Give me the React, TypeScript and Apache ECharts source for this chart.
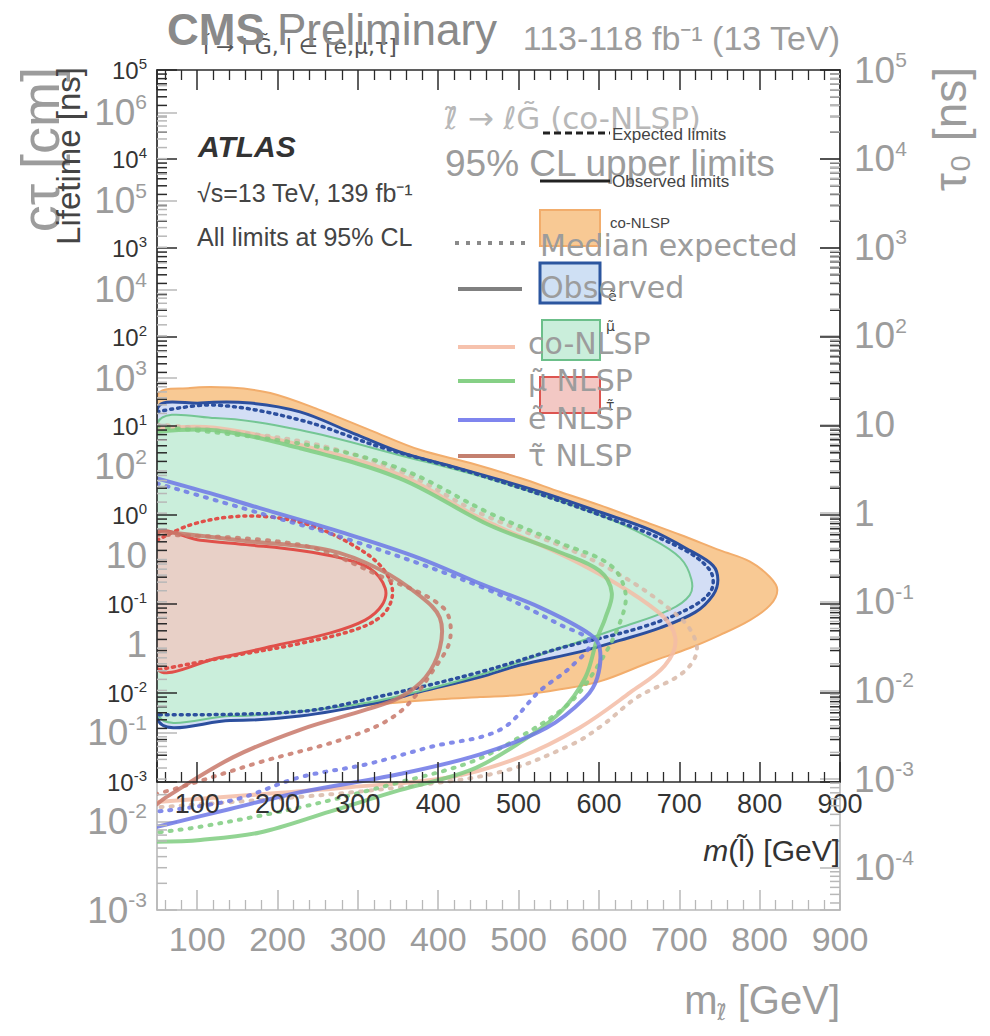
import React, { useEffect, useRef } from 'react';
import * as echarts from 'echarts';

// ---------- axis ranges ----------
const X_MIN = 50;
const X_MAX = 900;
const ATLAS_T_MIN = 1e-3; // lifetime [ns]
const ATLAS_T_MAX = 1e5;
const CMS_CTAU_MIN = 1e-3; // c tau [cm]
const CMS_CTAU_MAX = 3e6;
const CMS_TAU_MIN = 1e-3 / 30; // tau0 [ns]
const CMS_TAU_MAX = 1e5;
const atlasDecades = [-3, -2, -1, 0, 1, 2, 3, 4];
const cmsCtauDecades = [-3, -2, -1, 0, 1, 2, 3, 4, 5, 6];
const cmsTauDecades = [-5, -4, -3, -2, -1, 0, 1, 2, 3, 4];

// ---------- ATLAS contours: [m(slepton) GeV, lifetime ns] ----------
const atlasCoNLSP: [number, number][] = [
  [50, 21.2], [91, 26.7], [141, 27], [191, 23.5], [253, 15.1], [315, 9.0], [377, 5.4], [440, 3.84],
  [502, 2.6], [552, 1.81], [601, 1.29], [651, 0.88], [701, 0.6], [751, 0.4], [788, 0.3], [813, 0.2],
  [822, 0.144], [813, 0.097], [788, 0.066], [751, 0.045], [713, 0.032], [664, 0.0223], [601, 0.0135],
  [552, 0.011], [502, 0.0095], [452, 0.009], [402, 0.0085], [328, 0.0075], [228, 0.0057], [141, 0.0052], [50, 0.0056],
];
const atlasSelectron: [number, number][] = [
  [50, 15.1], [104, 18.1], [166, 18.1], [228, 14.4], [290, 8.6], [352, 5.1], [415, 3.55], [477, 2.47],
  [539, 1.68], [601, 1.08], [664, 0.68], [713, 0.4], [742, 0.27], [748, 0.186], [742, 0.126], [720, 0.081],
  [676, 0.054], [626, 0.039], [576, 0.029], [502, 0.0206], [452, 0.0151], [377, 0.0103], [328, 0.0079],
  [228, 0.0055], [141, 0.0049], [50, 0.0053],
];
const atlasSelectronExp: [number, number][] = [
  [50, 14.4], [122, 17.2], [228, 11.7], [328, 5.8], [452, 2.8], [601, 1.0], [701, 0.43], [738, 0.24],
  [740, 0.144], [713, 0.09], [651, 0.054], [552, 0.032], [452, 0.0172], [328, 0.0092], [228, 0.0062], [50, 0.0057],
];
const atlasSmuon: [number, number][] = [
  [50, 10.3], [122, 12.3], [228, 9.0], [352, 4.7], [477, 2.35], [601, 1.0], [664, 0.55], [701, 0.33],
  [715, 0.19], [713, 0.126], [688, 0.086], [626, 0.054], [552, 0.032], [452, 0.016], [328, 0.0083],
  [228, 0.0062], [141, 0.0055], [50, 0.006],
];
const atlasStau: [number, number][] = [
  [50, 0.6], [104, 0.52], [166, 0.46], [228, 0.4], [278, 0.33], [315, 0.25], [334, 0.15], [330, 0.097],
  [309, 0.066], [265, 0.047], [203, 0.035], [128, 0.025], [50, 0.0191],
];
const atlasStauExp: [number, number][] = [
  [50, 0.52], [91, 0.77], [141, 0.95], [191, 0.95], [240, 0.77], [290, 0.48], [328, 0.27], [343, 0.144],
  [334, 0.081], [303, 0.054], [228, 0.036], [153, 0.027], [50, 0.0181],
];

// ---------- CMS contours: [m GeV, tau0 ns] ----------
const cmsCoObs: [number, number][] = [
  [50, 9.0], [122, 9.2], [228, 5.9], [352, 2.7], [452, 0.88], [576, 0.27], [672, 0.079], [695, 0.039],
  [682, 0.0191], [639, 0.0095], [576, 0.0038], [502, 0.00177], [415, 0.00105], [290, 8.1e-4], [166, 6.6e-4], [50, 5.5e-4],
];
const cmsCoExp: [number, number][] = [
  [50, 10], [228, 6.5], [352, 3.0], [452, 1.0], [601, 0.27], [701, 0.066], [722, 0.03], [705, 0.016],
  [647, 0.0083], [605, 0.0041], [568, 0.0025], [477, 0.0012], [352, 8.1e-4], [228, 6.3e-4], [50, 4.8e-4],
];
const cmsSmuonObs: [number, number][] = [
  [50, 8.3], [122, 8.6], [228, 5.4], [352, 2.47], [464, 0.73], [552, 0.36], [601, 0.223], [616, 0.126],
  [608, 0.066], [598, 0.039], [583, 0.014], [552, 0.0057], [502, 0.0026], [440, 0.00126], [352, 7.5e-4],
  [265, 4.3e-4], [178, 2.5e-4], [104, 2.06e-4], [50, 1.96e-4],
];
const cmsSmuonExp: [number, number][] = [
  [50, 9.5], [228, 6.1], [352, 3.2], [464, 1.0], [552, 0.46], [614, 0.26], [633, 0.126], [626, 0.058],
  [601, 0.0206], [564, 0.0073], [502, 0.003], [440, 0.00155], [352, 9.2e-4], [228, 4.8e-4], [104, 2.9e-4], [50, 2.5e-4],
];
const cmsSelectronObs: [number, number][] = [
  [50, 2.47], [116, 1.68], [178, 1.14], [290, 0.57], [377, 0.31], [456, 0.155], [527, 0.086], [589, 0.043],
  [601, 0.03], [598, 0.014], [583, 0.0083], [535, 0.0038], [452, 0.0019], [352, 0.00114], [228, 7.1e-4],
  [141, 4.6e-4], [50, 2.9e-4],
];
const cmsSelectronExp: [number, number][] = [
  [50, 2.17], [178, 1.0], [290, 0.5], [456, 0.144], [552, 0.055], [589, 0.035], [564, 0.0181], [527, 0.01],
  [477, 0.0036], [390, 0.0023], [311, 0.00147], [228, 0.00105], [145, 5.8e-4], [50, 4.3e-4],
];
const cmsStauObs: [number, number][] = [
  [50, 0.63], [166, 0.48], [265, 0.38], [328, 0.23], [377, 0.117], [402, 0.066], [402, 0.03], [384, 0.014],
  [352, 0.0083], [311, 0.0061], [228, 0.0036], [145, 0.00177], [62, 6.3e-4], [50, 5.2e-4],
];
const cmsStauExp: [number, number][] = [
  [50, 0.57], [228, 0.44], [331, 0.19], [406, 0.086], [415, 0.039], [396, 0.0181], [352, 0.0057],
  [290, 0.003], [178, 0.00155], [79, 8.1e-4], [50, 6.8e-4],
];

// ---------- styles ----------
const SANS = "'Liberation Sans', Arial, sans-serif";
const DEJAVU = "'DejaVu Sans', 'Liberation Sans', sans-serif";
const CMS_GRAY = '#9c9c9c';
const CMS_AXIS = '#b8b8b8';
const ATLAS_DARK = '#2a2a2a';

function powLabel(v: number, cms: boolean) {
  const e = Math.log10(v);
  const r = Math.round(e);
  if (Math.abs(e - r) > 1e-3) return '';
  if (cms && r === 0) return '{b|1}';
  if (cms && r === 1) return '{b|10}';
  return `{b|10}{s|${r < 0 ? '-' : ''}${Math.abs(r)}}`;
}

const cmsRich = {
  b: { fontSize: 37, fontFamily: SANS, color: CMS_GRAY, lineHeight: 42 },
  s: { fontSize: 21, fontFamily: SANS, color: CMS_GRAY, lineHeight: 18, verticalAlign: 'top' },
};
const atlasRich = {
  b: { fontSize: 24, fontFamily: SANS, color: '#333', lineHeight: 28 },
  s: { fontSize: 15, fontFamily: SANS, color: '#333', lineHeight: 12, verticalAlign: 'top' },
};

type ShapeOpt = {
  xi: number; yi: number; z: number; closed?: boolean; fill?: string; stroke?: string;
  width?: number; dash?: number[]; opacity?: number; smooth?: number;
};

function shapeSeries(id: string, pts: [number, number][], o: ShapeOpt) {
  return {
    type: 'custom',
    id,
    name: id,
    xAxisIndex: o.xi,
    yAxisIndex: o.yi,
    z: o.z,
    clip: true,
    silent: true,
    data: pts,
    renderItem: (params: any, api: any) => {
      if (params.dataIndex !== 0) return null;
      const points = pts.map((p) => api.coord(p));
      return {
        type: o.closed ? 'polygon' : 'polyline',
        shape: { points, smooth: o.smooth ?? 0.35 },
        style: {
          fill: o.fill ?? 'none',
          stroke: o.stroke ?? 'none',
          lineWidth: o.width ?? 0,
          lineDash: o.dash,
          lineCap: 'round',
          opacity: o.opacity ?? 1,
        },
      };
    },
  };
}

function minorTickSeries(id: string, xi: number, yi: number, decades: number[], left: boolean, right: boolean,
  color: string, len: number, vmin: number, vmax: number) {
  return {
    type: 'custom',
    id,
    xAxisIndex: xi,
    yAxisIndex: yi,
    z: 7,
    clip: false,
    silent: true,
    data: decades.map((d) => [X_MIN, Math.pow(10, d)]),
    renderItem: (params: any, api: any) => {
      const d = decades[params.dataIndex];
      const cs = params.coordSys;
      const children: any[] = [];
      for (let k = 2; k <= 9; k++) {
        const v = k * Math.pow(10, d);
        if (v <= vmin || v >= vmax) continue;
        const y = api.coord([X_MIN, v])[1];
        if (left) children.push({ type: 'line', shape: { x1: cs.x, y1: y, x2: cs.x + len, y2: y }, style: { stroke: color, lineWidth: 1.5 } });
        if (right) children.push({ type: 'line', shape: { x1: cs.x + cs.width - len, y1: y, x2: cs.x + cs.width, y2: y }, style: { stroke: color, lineWidth: 1.5 } });
      }
      return { type: 'group', children };
    },
  };
}

const txt = (x: number, y: number, text: string, o: any = {}) => ({
  type: 'text',
  x,
  y,
  z: 30,
  rotation: o.rotation || 0,
  style: {
    text,
    fill: o.fill || '#333',
    fontSize: o.size || 20,
    fontFamily: o.family || SANS,
    fontWeight: o.weight || 'normal',
    fontStyle: o.fstyle || 'normal',
    align: o.align || 'left',
    verticalAlign: o.va || 'middle',
    rich: o.rich,
  },
});
const seg = (x1: number, y1: number, x2: number, y2: number, stroke: string, lw: number, dash?: number[]) => ({
  type: 'line', z: 30, shape: { x1, y1, x2, y2 }, style: { stroke, lineWidth: lw, lineDash: dash },
});
const box = (x: number, y: number, w: number, h: number, fill: string, stroke: string, lw: number) => ({
  type: 'rect', z: 29, shape: { x, y, width: w, height: h }, style: { fill, stroke, lineWidth: lw },
});

function buildOption() {
  const G_LEFT = 157;
  const G_TOP = 70;
  const G_W = 683;
  const cmsH = 840;
  const atlasH = 712;

  const xBase = (gridIndex: number, color: string, labelOpt: any, z: number, position = 'bottom') => ({
    type: 'value',
    gridIndex,
    position,
    min: X_MIN,
    max: X_MAX,
    splitNumber: 8,
    z,
    axisLine: { show: true, onZero: false, lineStyle: { color, width: 1.6 } },
    axisTick: { show: true, inside: true, length: 20, lineStyle: { color, width: 1.5 } },
    minorTick: { show: true, splitNumber: 5, length: 10, lineStyle: { color, width: 1.3 } },
    splitLine: { show: false },
    axisLabel: labelOpt,
  });

  const yLog = (gridIndex: number, position: string, min: number, max: number, color: string, labelOpt: any, z: number) => ({
    type: 'log',
    logBase: 10,
    gridIndex,
    position,
    min,
    max,
    z,
    axisLine: { show: true, onZero: false, lineStyle: { color, width: 1.6 } },
    axisTick: { show: true, inside: true, length: 20, lineStyle: { color, width: 1.5 } },
    splitLine: { show: false },
    axisLabel: labelOpt,
  });

  const atlasFill = (id: string, pts: [number, number][], fill: string, stroke: string, w: number) =>
    shapeSeries(id, pts, { xi: 1, yi: 2, z: 2, closed: true, fill, stroke, width: w });
  const atlasLine = (id: string, pts: [number, number][], stroke: string, w: number, dash?: number[]) =>
    shapeSeries(id, pts, { xi: 1, yi: 2, z: 3, stroke, width: w, dash });
  const cmsLine = (id: string, pts: [number, number][], stroke: string, dash?: number[]) =>
    shapeSeries(id, pts, { xi: 0, yi: 1, z: 4, stroke, width: 4, dash, opacity: 0.85 });

  const series = [
    atlasFill('ATLAS co-NLSP', atlasCoNLSP, '#f8c994', '#f2ad6c', 2),
    atlasFill('ATLAS selectron', atlasSelectron, '#d3def5', '#2c4f9e', 3),
    atlasFill('ATLAS smuon', atlasSmuon, '#caeedb', '#74c694', 2),
    atlasFill('ATLAS stau', atlasStau, '#e8d0c7', '#e0504a', 3),
    atlasLine('ATLAS selectron expected', atlasSelectronExp, '#2c4f9e', 3.5, [2, 5]),
    atlasLine('ATLAS stau expected', atlasStauExp, '#e0504a', 3.5, [2, 5]),
    cmsLine('CMS co-NLSP observed', cmsCoObs, '#f3bca6'),
    cmsLine('CMS co-NLSP expected', cmsCoExp, '#d8b8a8', [2, 8]),
    cmsLine('CMS smuon observed', cmsSmuonObs, '#7fcd80'),
    cmsLine('CMS smuon expected', cmsSmuonExp, '#7fcd80', [2, 8]),
    cmsLine('CMS selectron observed', cmsSelectronObs, '#6d77e6'),
    cmsLine('CMS selectron expected', cmsSelectronExp, '#6d77e6', [2, 8]),
    cmsLine('CMS stau observed', cmsStauObs, '#c8786a'),
    cmsLine('CMS stau expected', cmsStauExp, '#c8786a', [2, 8]),
    minorTickSeries('atlas minor', 1, 2, atlasDecades, true, true, ATLAS_DARK, 10, ATLAS_T_MIN, ATLAS_T_MAX),
    minorTickSeries('cms left minor', 0, 0, cmsCtauDecades, true, false, CMS_AXIS, 10, CMS_CTAU_MIN, CMS_CTAU_MAX),
    minorTickSeries('cms right minor', 0, 1, cmsTauDecades, false, true, CMS_AXIS, 10, CMS_TAU_MIN, CMS_TAU_MAX),
  ];

  const legendFont = { size: 30, family: DEJAVU, fill: CMS_GRAY };

  const graphics = [
    // ATLAS header texts
    txt(203, 46, 'l̃ → l G̃, l ∈ [e,μ,τ]', { size: 22, family: DEJAVU, fill: '#555' }),
    txt(198, 146, 'ATLAS', { size: 30, weight: 'bold', fstyle: 'italic', fill: '#333' }),
    txt(197, 193, '√s=13 TeV, 139 fb⁻¹', { size: 25, fill: '#444' }),
    txt(197, 237, 'All limits at 95% CL', { size: 25, fill: '#444' }),
    // CMS header texts
    txt(167, 29, '{b|CMS} {n|Preliminary}', {
      size: 44, fill: '#8a8a8a',
      rich: {
        b: { fontSize: 44, fontFamily: SANS, fontWeight: 'bold', fill: '#8a8a8a' },
        n: { fontSize: 44, fontFamily: SANS, fill: '#8a8a8a' },
      },
    }),
    txt(840, 38, '113-118 fb⁻¹ (13 TeV)', { size: 34, fill: CMS_GRAY, align: 'right' }),
    txt(445, 118, 'ℓ̃ → ℓG̃ (co-NLSP)', { size: 31, family: DEJAVU, fill: '#b8b8b8' }),
    txt(445, 163, '95% CL upper limits', { size: 37, fill: CMS_GRAY }),
    // ATLAS legend
    seg(543, 133, 610, 133, '#222', 3, [7, 4]),
    txt(612, 134, 'Expected limits', { size: 17, fill: '#444' }),
    seg(540, 181, 610, 181, '#222', 3),
    txt(612, 181, 'Observed limits', { size: 17, fill: '#444' }),
    box(540, 210, 60, 36, '#f8c994', '#f2ad6c', 2),
    txt(610, 222, 'co-NLSP', { size: 15, fill: '#444' }),
    box(540, 263, 60, 40, '#cfe0f4', '#2c569f', 3),
    txt(608, 296, 'ẽ', { size: 14, family: DEJAVU, fill: '#444' }),
    box(542, 320, 58, 40, '#caeedb', '#6cbf8a', 2),
    txt(606, 326, 'μ̃', { size: 14, family: DEJAVU, fill: '#444' }),
    box(540, 377, 60, 36, '#f3c8c4', '#dd5550', 2),
    txt(606, 405, 'τ̃', { size: 14, family: DEJAVU, fill: '#444' }),
    // CMS legend
    seg(455, 243, 525, 243, '#8a8a8a', 4, [4, 7]),
    txt(540, 245, 'Median expected', legendFont),
    seg(458, 289, 522, 289, '#808080', 4),
    txt(540, 287, 'Observed', legendFont),
    seg(458, 347, 515, 347, '#f6c2ad', 4),
    txt(528, 343, 'co-NLSP', legendFont),
    seg(458, 381, 515, 381, '#86d086', 4),
    txt(528, 380, 'μ̃ NLSP', legendFont),
    seg(458, 420, 515, 420, '#7f85ee', 4),
    txt(528, 418, 'ẽ NLSP', legendFont),
    seg(458, 456, 515, 456, '#c4806f', 4),
    txt(528, 455, 'τ̃ NLSP', legendFont),
    // axis titles
    txt(40, 67, 'cτ [cm]', { rotation: Math.PI / 2, align: 'right', size: 54, fill: CMS_GRAY }),
    txt(68, 67, 'Lifetime [ns]', { rotation: Math.PI / 2, align: 'right', size: 33, fill: '#444' }),
    txt(950, 67, 'τ₀ [ns]', { rotation: Math.PI / 2, align: 'right', size: 46, fill: CMS_GRAY }),
    txt(840, 850, '{i|m}(l̃) [GeV]', {
      align: 'right', size: 30, fill: '#333',
      rich: { i: { fontStyle: 'italic', fontSize: 30, fontFamily: SANS, fill: '#333' } },
    }),
    txt(840, 1000, '{m|m}{s|ℓ̃}{m| [GeV]}', {
      align: 'right', size: 40, fill: CMS_GRAY,
      rich: {
        m: { fontSize: 40, fontFamily: SANS, fill: CMS_GRAY, lineHeight: 46 },
        s: { fontSize: 22, fontFamily: DEJAVU, fill: CMS_GRAY, lineHeight: 22, verticalAlign: 'bottom' },
      },
    }),
  ];

  return {
    animation: false,
    backgroundColor: '#ffffff',
    grid: [
      { left: G_LEFT, top: G_TOP, width: G_W, height: cmsH, containLabel: false },
      { left: G_LEFT, top: G_TOP, width: G_W, height: atlasH, containLabel: false },
    ],
    xAxis: [
      xBase(0, CMS_AXIS, {
        show: true, margin: 12, fontSize: 34, fontFamily: SANS, color: CMS_GRAY,
        formatter: (v: number) => (v === X_MIN ? '' : String(v)),
      }, 1),
      xBase(1, ATLAS_DARK, {
        show: true, margin: 8, fontSize: 27, fontFamily: SANS, color: '#333',
        formatter: (v: number) => (v === X_MIN ? '' : String(v)),
      }, 5),
      xBase(1, ATLAS_DARK, { show: false }, 5, 'top'),
    ],
    yAxis: [
      yLog(0, 'left', CMS_CTAU_MIN, CMS_CTAU_MAX, CMS_AXIS, {
        show: true, margin: 10, formatter: (v: number) => powLabel(v, true), rich: cmsRich, color: CMS_GRAY,
      }, 1),
      yLog(0, 'right', CMS_TAU_MIN, CMS_TAU_MAX, CMS_AXIS, {
        show: true, margin: 14, formatter: (v: number) => powLabel(v, true), rich: cmsRich, color: CMS_GRAY,
      }, 1),
      yLog(1, 'left', ATLAS_T_MIN, ATLAS_T_MAX, ATLAS_DARK, {
        show: true, margin: 10, formatter: (v: number) => powLabel(v, false), rich: atlasRich, color: '#333',
      }, 5),
      yLog(1, 'right', ATLAS_T_MIN, ATLAS_T_MAX, ATLAS_DARK, { show: false }, 5),
    ],
    series,
    graphic: { elements: graphics },
  };
}

export default function App() {
  const ref = useRef<HTMLDivElement>(null);
  useEffect(() => {
    if (!ref.current) return;
    const chart = echarts.init(ref.current, null, { renderer: 'svg' });
    chart.setOption(buildOption() as any);
    return () => chart.dispose();
  }, []);
  return (
    <div
      ref={ref}
      style={{ position: 'fixed', left: 0, top: 0, width: 990, height: 1036, background: '#fff' }}
    />
  );
}
